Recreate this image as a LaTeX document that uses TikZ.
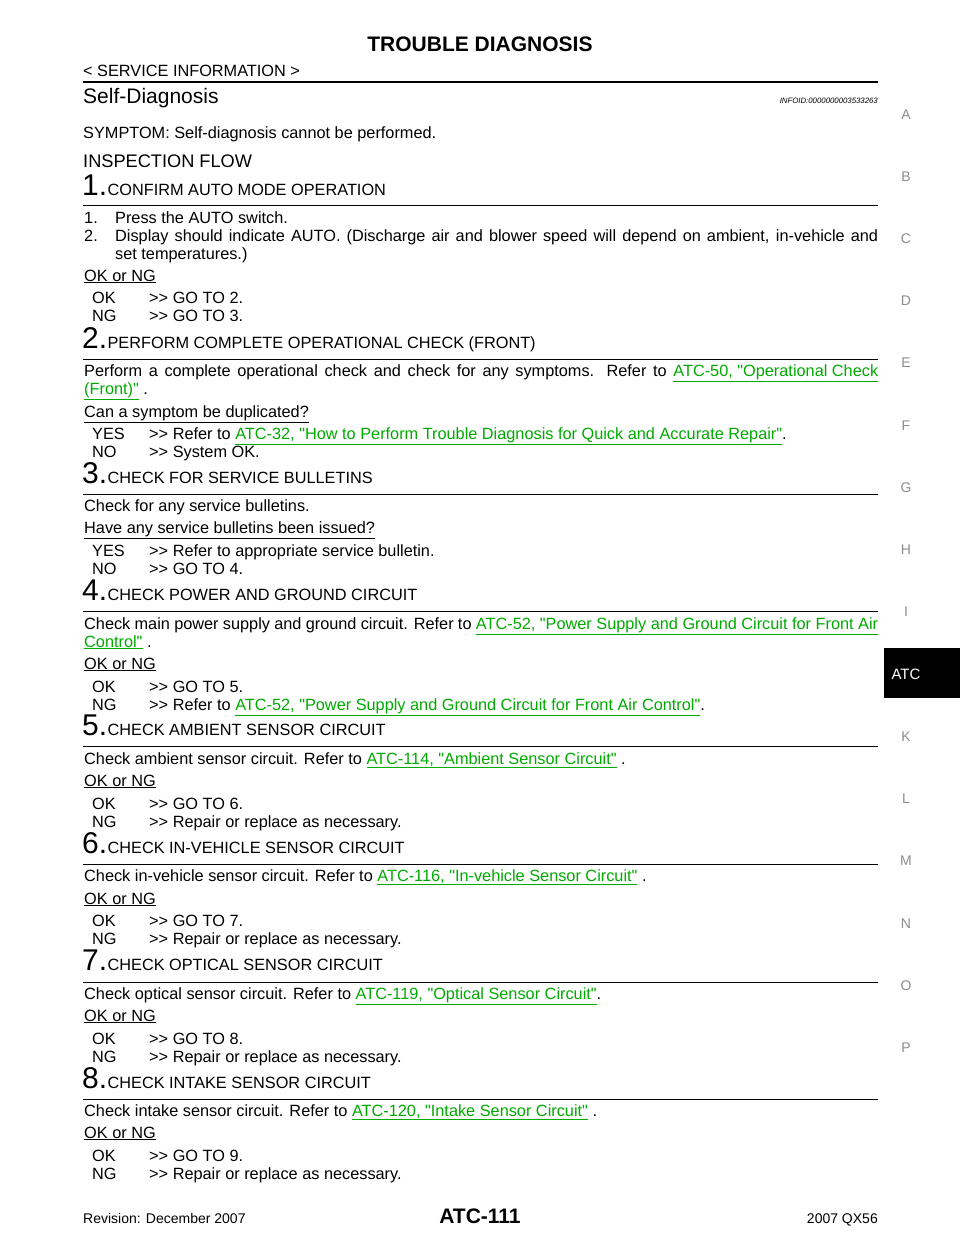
\documentclass[tikz,border=0pt]{standalone}
\usepackage{fontspec}
\setmainfont{Liberation Sans}[Ligatures=TeXOff]
\usetikzlibrary{positioning}
\definecolor{linkgreen}{RGB}{0,170,0}
\newcommand{\lnk}[1]{\textcolor{linkgreen}{\underline{#1}}}
\newcommand{\just}[2]{\makebox[#1][s]{#2}}
\newcommand{\gt}{{>}{>}}
\tikzset{
    txt/.style={anchor=base west, inner sep=0pt, font=\fontsize{16.3}{19}\selectfont},
    stepnum/.style={anchor=base west, inner sep=0pt, font=\fontsize{30}{32}\selectfont},
    steptitle/.style={anchor=base west, inner sep=0pt, font=\fontsize{16.3}{19}\selectfont},
    tabletter/.style={anchor=base, inner sep=0pt, text=black!45, font=\fontsize{14}{16}\selectfont},
    rule/.style={line width=0.8pt},
}
\begin{document}
\begin{tikzpicture}[x=1pt,y=-1pt]
    \useasboundingbox (0,0) rectangle (960,1242);
    % header
    \node[anchor=base,inner sep=0pt,font=\fontsize{21}{24}\selectfont\bfseries](title) at (480,51) {TROUBLE DIAGNOSIS};
    \node[txt](sect) at (83,76) {< SERVICE INFORMATION >};
    \draw[line width=2pt] (83,82) -- (878,82);
    \node[txt,font=\fontsize{21}{24}\selectfont](sd) at (83,103) {Self-Diagnosis};
    \node[anchor=base east,inner sep=0pt,font=\fontsize{7.8}{9}\selectfont\itshape](info) at (878,103) {INFOID:0000000003533263};
    \node[txt](symp) at (83,138) {SYMPTOM: Self-diagnosis cannot be performed.};
    \node[txt,font=\fontsize{18.2}{21}\selectfont](flow) at (83,167) {INSPECTION FLOW};

    % step 1
    \node[stepnum](n1) at (82,195) {1.};
    \node[steptitle,right=0pt of n1.base east,anchor=base west](h1) {CONFIRM AUTO MODE OPERATION};
    \draw[rule] (83,205) -- (878,205);
    \node[txt](a1) at (84,223) {\makebox[31pt][l]{1.}Press the AUTO switch.};
    \node[txt](a2) at (84,241) {\makebox[31pt][l]{2.}\just{763pt}{Display should indicate AUTO. (Discharge air and blower speed will depend on ambient, in-vehicle and}};
    \node[txt](a3) at (115,259) {set temperatures.)};
    \node[txt](q1) at (84,281) {\underline{OK or NG}};
    \node[txt](ok1) at (92,303) {OK};
    \node[txt](okr1) at (149,303) {\gt\ GO TO 2.};
    \node[txt](ng1) at (92,321) {NG};
    \node[txt](ngr1) at (149,321) {\gt\ GO TO 3.};

    % step 2
    \node[stepnum](n2) at (82,348) {2.};
    \node[steptitle,right=0pt of n2.base east,anchor=base west](h2) {PERFORM COMPLETE OPERATIONAL CHECK (FRONT)};
    \draw[rule] (83,359) -- (878,359);
    \node[txt](b1) at (84,376) {\just{794pt}{Perform a complete operational check and check for any symptoms. Refer to \lnk{ATC-50, "Operational Check}}};
    \node[txt](b2) at (84,394) {\lnk{(Front)"} .};
    \node[txt](q2) at (84,417) {\underline{Can a symptom be duplicated?}};
    \node[txt](ok2) at (92,439) {YES};
    \node[txt](okr2) at (149,439) {\gt\ Refer to \lnk{ATC-32, "How to Perform Trouble Diagnosis for Quick and Accurate Repair"}.};
    \node[txt](ng2) at (92,457) {NO};
    \node[txt](ngr2) at (149,457) {\gt\ System OK.};

    % step 3
    \node[stepnum](n3) at (82,483) {3.};
    \node[steptitle,right=0pt of n3.base east,anchor=base west](h3) {CHECK FOR SERVICE BULLETINS};
    \draw[rule] (83,494) -- (878,494);
    \node[txt](c1) at (84,511) {Check for any service bulletins.};
    \node[txt](q3) at (84,533) {\underline{Have any service bulletins been issued?}};
    \node[txt](ok3) at (92,556) {YES};
    \node[txt](okr3) at (149,556) {\gt\ Refer to appropriate service bulletin.};
    \node[txt](ng3) at (92,574) {NO};
    \node[txt](ngr3) at (149,574) {\gt\ GO TO 4.};

    % step 4
    \node[stepnum](n4) at (82,600) {4.};
    \node[steptitle,right=0pt of n4.base east,anchor=base west](h4) {CHECK POWER AND GROUND CIRCUIT};
    \draw[rule] (83,611) -- (878,611);
    \node[txt](d1) at (84,629) {\just{794pt}{Check main power supply and ground circuit. Refer to \lnk{ATC-52, "Power Supply and Ground Circuit for Front Air}}};
    \node[txt](d2) at (84,647) {\lnk{Control"} .};
    \node[txt](q4) at (84,669) {\underline{OK or NG}};
    \node[txt](ok4) at (92,692) {OK};
    \node[txt](okr4) at (149,692) {\gt\ GO TO 5.};
    \node[txt](ng4) at (92,710) {NG};
    \node[txt](ngr4) at (149,710) {\gt\ Refer to \lnk{ATC-52, "Power Supply and Ground Circuit for Front Air Control"}.};

    % step 5
    \node[stepnum](n5) at (82,735) {5.};
    \node[steptitle,right=0pt of n5.base east,anchor=base west](h5) {CHECK AMBIENT SENSOR CIRCUIT};
    \draw[rule] (83,746) -- (878,746);
    \node[txt](e1) at (84,764) {Check ambient sensor circuit. Refer to \lnk{ATC-114, "Ambient Sensor Circuit"} .};
    \node[txt](q5) at (84,786) {\underline{OK or NG}};
    \node[txt](ok5) at (92,809) {OK};
    \node[txt](okr5) at (149,809) {\gt\ GO TO 6.};
    \node[txt](ng5) at (92,827) {NG};
    \node[txt](ngr5) at (149,827) {\gt\ Repair or replace as necessary.};

    % step 6
    \node[stepnum](n6) at (82,853) {6.};
    \node[steptitle,right=0pt of n6.base east,anchor=base west](h6) {CHECK IN-VEHICLE SENSOR CIRCUIT};
    \draw[rule] (83,864) -- (878,864);
    \node[txt](f1) at (84,881) {Check in-vehicle sensor circuit. Refer to \lnk{ATC-116, "In-vehicle Sensor Circuit"} .};
    \node[txt](q6) at (84,904) {\underline{OK or NG}};
    \node[txt](ok6) at (92,926) {OK};
    \node[txt](okr6) at (149,926) {\gt\ GO TO 7.};
    \node[txt](ng6) at (92,944) {NG};
    \node[txt](ngr6) at (149,944) {\gt\ Repair or replace as necessary.};

    % step 7
    \node[stepnum](n7) at (82,970) {7.};
    \node[steptitle,right=0pt of n7.base east,anchor=base west](h7) {CHECK OPTICAL SENSOR CIRCUIT};
    \draw[rule] (83,982) -- (878,982);
    \node[txt](g1) at (84,999) {Check optical sensor circuit. Refer to \lnk{ATC-119, "Optical Sensor Circuit"}.};
    \node[txt](q7) at (84,1021) {\underline{OK or NG}};
    \node[txt](ok7) at (92,1044) {OK};
    \node[txt](okr7) at (149,1044) {\gt\ GO TO 8.};
    \node[txt](ng7) at (92,1062) {NG};
    \node[txt](ngr7) at (149,1062) {\gt\ Repair or replace as necessary.};

    % step 8
    \node[stepnum](n8) at (82,1088) {8.};
    \node[steptitle,right=0pt of n8.base east,anchor=base west](h8) {CHECK INTAKE SENSOR CIRCUIT};
    \draw[rule] (83,1099) -- (878,1099);
    \node[txt](k1) at (84,1116) {Check intake sensor circuit. Refer to \lnk{ATC-120, "Intake Sensor Circuit"} .};
    \node[txt](q8) at (84,1138) {\underline{OK or NG}};
    \node[txt](ok8) at (92,1161) {OK};
    \node[txt](okr8) at (149,1161) {\gt\ GO TO 9.};
    \node[txt](ng8) at (92,1179) {NG};
    \node[txt](ngr8) at (149,1179) {\gt\ Repair or replace as necessary.};

    % footer
    \node[txt,font=\fontsize{14}{16}\selectfont](rev) at (83,1223) {Revision: December 2007};
    \node[anchor=base,inner sep=0pt,font=\fontsize{21}{24}\selectfont\bfseries](page) at (480,1223) {ATC-111};
    \node[anchor=base east,inner sep=0pt,font=\fontsize{14}{16}\selectfont](model) at (878,1223) {2007 QX56};

    % side tabs
    \foreach \l/\y in {A/119,B/181,C/243,D/305,E/367,F/430,G/492,H/554,I/616,K/741,L/803,M/865,N/928,O/990,P/1052}
        \node[tabletter](tab\l) at (906,\y) {\l};
    \fill[black] (884,648) rectangle (960,698);
    \node[tabletter,text=white,font=\fontsize{15}{17}\selectfont](tabATC) at (906,679) {ATC};
\end{tikzpicture}
\end{document}
